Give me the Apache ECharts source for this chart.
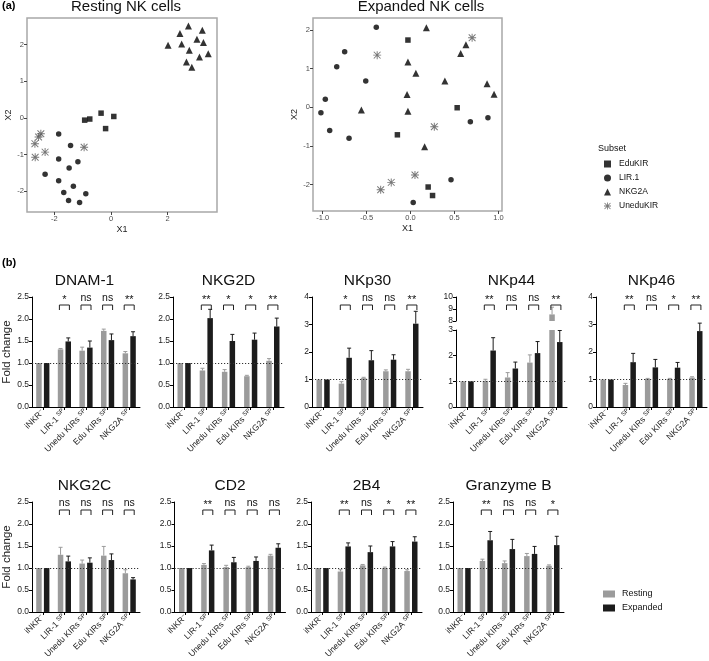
<!DOCTYPE html>
<html><head><meta charset="utf-8">
<script src="https://cdn.jsdelivr.net/npm/echarts@6/dist/echarts.min.js"></script>
<style>html,body{margin:0;padding:0;background:#fff}#c{width:709px;height:661px}</style>
</head><body><div id="c"></div>
<script>
// ---------- DATA ----------
const categories = ['iNKR', 'LIR-1', 'Unedu KIRs', 'Edu KIRs', 'NKG2A'];
const categorySuperscripts = ['−', 'SP', 'SP', 'SP', 'SP'];
const groups = ['Resting', 'Expanded'];
const subsets = ['EduKIR', 'LIR.1', 'NKG2A', 'UneduKIR'];

// (a) scatter: [X1, X2]
const restingEduKIR = [[-0.93,-0.06],[-0.75,-0.03],[-0.35,0.13],[0.10,0.04],[-0.19,-0.29]];
const restingLIR1 = [[-1.85,-0.44],[-1.43,-0.75],[-1.85,-1.12],[-1.17,-1.19],[-1.48,-1.36],[-2.33,-1.53],[-1.85,-1.71],[-1.33,-1.86],[-1.67,-2.03],[-0.89,-2.06],[-1.50,-2.25],[-1.11,-2.30]];
const restingNKG2A = [[2.02,1.98],[2.44,2.30],[2.74,2.50],[3.23,2.39],[2.50,2.01],[3.04,2.14],[3.27,2.05],[2.77,1.84],[3.13,1.66],[3.44,1.75],[2.67,1.52],[2.86,1.38]];
const restingUneduKIR = [[-2.48,-0.43],[-2.56,-0.52],[-2.69,-0.70],[-2.33,-0.93],[-2.68,-1.07],[-0.95,-0.80]];

const expandedEduKIR = [[-0.03,1.74],[0.53,-0.01],[-0.15,-0.71],[0.20,-2.06],[0.25,-2.28]];
const expandedLIR1 = [[-0.39,2.07],[-0.75,1.44],[-0.84,1.05],[-0.51,0.68],[-0.97,0.21],[-1.02,-0.14],[-0.92,-0.60],[-0.70,-0.80],[0.68,-0.37],[0.88,-0.27],[0.46,-1.87],[0.03,-2.46]];
const expandedNKG2A = [[0.18,2.06],[0.63,1.62],[0.57,1.39],[-0.03,1.17],[0.06,0.88],[0.39,0.68],[-0.04,0.33],[0.87,0.61],[0.95,0.34],[-0.56,-0.07],[-0.03,-0.10],[0.16,-1.02]];
const expandedUneduKIR = [[-0.38,1.35],[0.70,1.80],[0.27,-0.50],[0.05,-1.75],[-0.22,-1.94],[-0.34,-2.13]];

const restingTicksX = [-2, 0, 2];
const restingTicksY = [-2, -1, 0, 1, 2];
const expandedTicksX = [-1.0, -0.5, 0.0, 0.5, 1.0];
const expandedTicksY = [-2, -1, 0, 1, 2];

// (b) fold change: mean and upper error (SEM)
const dnam1Resting = [1.00, 1.31, 1.28, 1.73, 1.22];
const dnam1RestingErr = [0, 0.02, 0.08, 0.04, 0.04];
const dnam1Expanded = [1.00, 1.49, 1.35, 1.52, 1.61];
const dnam1ExpandedErr = [0, 0.08, 0.15, 0.14, 0.10];
const dnam1Sig = ['*', 'ns', 'ns', '**'];

const nkg2dResting = [1.00, 0.83, 0.80, 0.70, 1.05];
const nkg2dRestingErr = [0, 0.05, 0.05, 0.02, 0.05];
const nkg2dExpanded = [1.00, 2.02, 1.50, 1.53, 1.83];
const nkg2dExpandedErr = [0, 0.20, 0.15, 0.15, 0.19];
const nkg2dSig = ['**', '*', '*', '**'];

const nkp30Resting = [1.00, 0.85, 1.05, 1.30, 1.30];
const nkp30RestingErr = [0, 0.07, 0.03, 0.05, 0.07];
const nkp30Expanded = [1.00, 1.79, 1.70, 1.72, 3.03];
const nkp30ExpandedErr = [0, 0.35, 0.35, 0.18, 0.45];
const nkp30Sig = ['*', 'ns', 'ns', '**'];

const nkp44Resting = [1.00, 1.02, 1.15, 1.73, 8.55];
const nkp44RestingErr = [0, 0.06, 0.19, 0.30, 0.60];
const nkp44Expanded = [1.00, 2.20, 1.50, 2.10, 2.53];
const nkp44ExpandedErr = [0, 0.50, 0.25, 0.45, 0.45];
const nkp44Sig = ['**', 'ns', 'ns', '**'];

const nkp46Resting = [1.00, 0.80, 1.02, 1.02, 1.07];
const nkp46RestingErr = [0, 0.06, 0.02, 0.02, 0.03];
const nkp46Expanded = [1.00, 1.63, 1.44, 1.43, 2.76];
const nkp46ExpandedErr = [0, 0.32, 0.29, 0.19, 0.29];
const nkp46Sig = ['**', 'ns', '*', '**'];

const nkg2cResting = [1.00, 1.30, 1.10, 1.28, 0.88];
const nkg2cRestingErr = [0, 0.17, 0.08, 0.21, 0.08];
const nkg2cExpanded = [1.00, 1.15, 1.12, 1.18, 0.74];
const nkg2cExpandedErr = [0, 0.12, 0.11, 0.14, 0.04];
const nkg2cSig = ['ns', 'ns', 'ns', 'ns'];

const cd2Resting = [1.00, 1.07, 1.02, 1.02, 1.28];
const cd2RestingErr = [0, 0.03, 0.04, 0.02, 0.03];
const cd2Expanded = [1.00, 1.40, 1.13, 1.16, 1.46];
const cd2ExpandedErr = [0, 0.12, 0.11, 0.09, 0.09];
const cd2Sig = ['**', 'ns', 'ns', 'ns'];

const b2b4Resting = [1.00, 0.92, 1.06, 1.00, 0.93];
const b2b4RestingErr = [0, 0.04, 0.02, 0.02, 0.03];
const b2b4Expanded = [1.00, 1.49, 1.36, 1.49, 1.60];
const b2b4ExpandedErr = [0, 0.08, 0.14, 0.11, 0.11];
const b2b4Sig = ['**', 'ns', '*', '**'];

const gzmbResting = [1.00, 1.16, 1.11, 1.27, 1.05];
const gzmbRestingErr = [0, 0.04, 0.05, 0.06, 0.02];
const gzmbExpanded = [1.00, 1.63, 1.43, 1.32, 1.52];
const gzmbExpandedErr = [0, 0.20, 0.22, 0.17, 0.20];
const gzmbSig = ['**', 'ns', 'ns', '*'];

const ticks25 = [0, 2.5, 0.5];
const ticks4 = [0, 4, 1];
const ticksNkp44Low = [0, 3, 1];
const ticksNkp44High = [8, 10, 1];

// ---------- LAYOUT / STYLE ----------
const FONT = 'Liberation Sans, Arial, Helvetica, sans-serif';
const GRAY = '#9b9b9b', BLACK = '#1c1c1c';
const BW = 5.5, HALF = 3.85;
const asteriskPath = 'path://M0,4.4L10,4.4L10,5.6L0,5.6Z M4.4,0L5.6,0L5.6,10L4.4,10Z M1.2,0.35L9.65,8.8L8.8,9.65L0.35,1.2Z M8.8,0.35L9.65,1.2L1.2,9.65L0.35,8.8Z';
const symbolFor = {EduKIR: ['rect', 5.5, '#000'], 'LIR.1': ['circle', 5.5, '#000'], NKG2A: ['triangle', 7, '#000'], UneduKIR: [asteriskPath, 8, '#555']};

const grids = [], xAxes = [], yAxes = [], series = [], graphics = [];

function addScatter(left, top, w, h, xr, yr, xt, yt, dec, sets) {
  const gi = grids.length;
  grids.push({left, top, width: w, height: h, show: true, borderColor: '#a8a8a8', borderWidth: 1.5, backgroundColor: 'transparent'});
  const lab = {fontSize: 7.5, color: '#4d4d4d', fontFamily: FONT, margin: 3};
  xAxes.push({gridIndex: gi, type: 'value', position: 'bottom', min: xr[0], max: xr[1], name: 'X1', nameLocation: 'middle', nameGap: 13,
    nameTextStyle: {fontSize: 9, color: '#222', fontFamily: FONT},
    axisLine: {show: false, onZero: false}, splitLine: {show: false},
    axisTick: {show: true, length: 3, lineStyle: {color: '#444'}, customValues: xt},
    axisLabel: Object.assign({customValues: xt, formatter: v => dec ? v.toFixed(1) : String(v)}, lab)});
  yAxes.push({gridIndex: gi, type: 'value', position: 'left', min: yr[0], max: yr[1], name: 'X2', nameLocation: 'middle', nameGap: 14,
    nameTextStyle: {fontSize: 9, color: '#222', fontFamily: FONT},
    axisLine: {show: false, onZero: false}, splitLine: {show: false},
    axisTick: {show: true, length: 3, lineStyle: {color: '#444'}, customValues: yt},
    axisLabel: Object.assign({customValues: yt, formatter: v => String(v)}, lab)});
  subsets.forEach((s, k) => {
    const sy = symbolFor[s];
    series.push({type: 'scatter', name: s, xAxisIndex: gi, yAxisIndex: gi, data: sets[k],
      symbol: sy[0], symbolSize: sy[1], itemStyle: {color: sy[2]}, silent: true});
  });
}

function errRender(offset, color) {
  return function (params, api) {
    const e = api.value(2);
    if (!(e > 0)) return;
    const c = api.value(0), v = api.value(1);
    const p0 = api.coord([c, v]), p1 = api.coord([c, v + e]);
    const x = p0[0] + offset;
    return {type: 'group', children: [
      {type: 'line', shape: {x1: x, y1: p0[1], x2: x, y2: p1[1]}, style: {stroke: color, lineWidth: 1}},
      {type: 'line', shape: {x1: x - 2, y1: p1[1], x2: x + 2, y2: p1[1]}, style: {stroke: color, lineWidth: 1}}
    ]};
  };
}

function sigRender(sig) {
  return function (params, api) {
    const p = api.coord([api.value(0), 0]);
    const x = p[0], top = params.coordSys.y;
    const txt = sig[params.dataIndex];
    const star = txt.indexOf('*') >= 0;
    return {type: 'group', children: [
      {type: 'polyline', shape: {points: [[x - 5, top + 13], [x - 5, top + 8], [x + 5, top + 8], [x + 5, top + 13]]},
        style: {stroke: '#222', lineWidth: 1, fill: null}},
      {type: 'text', x: x, y: star ? top + 3 : top + 1, style: {text: txt, fill: '#111', fontSize: star ? 11 : 10.5,
        fontFamily: FONT, align: 'center', verticalAlign: 'middle'}}
    ]};
  };
}

function makeX(gi, show) {
  return {gridIndex: gi, type: 'category', data: categories, show: show,
    axisLine: {show: show, lineStyle: {color: '#000', width: 1}},
    axisTick: {show: show, length: 3, alignWithLabel: true, lineStyle: {color: '#000'}},
    axisLabel: {show: show, interval: 0, rotate: 45, margin: 4, fontFamily: FONT, color: '#222',
      formatter: (v, i) => '{a|' + v + (i === 0 ? '' : ' ') + '}{s|' + categorySuperscripts[i] + '}',
      rich: {a: {fontSize: 8.5, lineHeight: 10, fontFamily: FONT, color: '#222'},
             s: {fontSize: 6, lineHeight: 6, verticalAlign: 'top', fontFamily: FONT, color: '#222'}}}};
}
function makeY(gi, t, yname) {
  const dec = t[2] < 1;
  return {gridIndex: gi, type: 'value', min: t[0], max: t[1], interval: t[2],
    name: yname ? 'Fold change' : '', nameLocation: 'middle', nameGap: 19,
    nameTextStyle: {fontSize: 11.5, color: '#222', fontFamily: FONT},
    axisLine: {show: true, lineStyle: {color: '#000', width: 1}},
    axisTick: {show: true, length: 3, lineStyle: {color: '#000'}},
    splitLine: {show: false},
    axisLabel: {fontSize: 8.5, color: '#222', margin: 3, fontFamily: FONT, formatter: v => dec ? v.toFixed(1) : String(v)}};
}
function barSeries(gi, name, data, color, withRef) {
  const s = {type: 'bar', name, xAxisIndex: gi, yAxisIndex: gi, data, barWidth: BW, barGap: '40%',
    itemStyle: {color}, silent: true, clip: true};
  if (withRef) s.markLine = {silent: true, symbol: 'none', animation: false, label: {show: false},
    lineStyle: {type: [1.2, 1.8], color: '#333', width: 1}, data: [{yAxis: 1}]};
  return s;
}
function errSeries(gi, vals, errs, offset, color, keep) {
  return {type: 'custom', xAxisIndex: gi, yAxisIndex: gi, silent: true, clip: false,
    data: vals.map((v, i) => keep(v, errs[i]) ? [i, v, errs[i]] : [i, v, 0]),
    renderItem: errRender(offset, color)};
}

function addBarPanel(p) {
  const gi = grids.length;
  grids.push({left: p.left, top: p.top, width: 111, height: p.h});
  xAxes.push(makeX(gi, true));
  yAxes.push(makeY(gi, p.ticks, p.yname));
  series.push(barSeries(gi, 'Resting', p.r, GRAY, true));
  series.push(barSeries(gi, 'Expanded', p.e, BLACK, false));
  const all = () => true;
  series.push(errSeries(gi, p.r, p.re, -HALF, GRAY, p.keepR || all));
  series.push(errSeries(gi, p.e, p.ee, HALF, BLACK, all));
  let sg = gi;
  if (p.upper) {
    sg = grids.length;
    grids.push({left: p.left, top: p.upper.top, width: 111, height: p.upper.h});
    xAxes.push(makeX(sg, false));
    yAxes.push(makeY(sg, p.upper.ticks, false));
    const lo = p.upper.ticks[0];
    series.push(barSeries(sg, 'Resting', p.r.map(v => v >= lo ? v : '-'), GRAY, false));
    series.push(barSeries(sg, 'Expanded', p.e.map(v => v >= lo ? v : '-'), BLACK, false));
    series.push(errSeries(sg, p.r, p.re, -HALF, GRAY, v => v >= lo));
  }
  series.push({type: 'custom', xAxisIndex: sg, yAxisIndex: sg, silent: true, clip: false,
    data: p.sig.map((s, k) => [k + 1]), renderItem: sigRender(p.sig)});
  graphics.push({type: 'text', x: p.left + 55.5, y: p.titleY,
    style: {text: p.name, fontSize: 15.5, fontFamily: FONT, fill: '#111', align: 'center', verticalAlign: 'middle'}});
}

// ---------- BUILD ----------
addScatter(27, 18, 190, 194, [-2.97, 3.75], [-2.56, 2.72], restingTicksX, restingTicksY, false,
  [restingEduKIR, restingLIR1, restingNKG2A, restingUneduKIR]);
addScatter(313, 18, 189, 193, [-1.11, 1.04], [-2.68, 2.31], expandedTicksX, expandedTicksY, true,
  [expandedEduKIR, expandedLIR1, expandedNKG2A, expandedUneduKIR]);

const R1 = 297, H1 = 110, R2 = 502, H2 = 111;
addBarPanel({name: 'DNAM-1', left: 29, top: R1, h: H1, titleY: 281, ticks: ticks25, yname: true,
  r: dnam1Resting, re: dnam1RestingErr, e: dnam1Expanded, ee: dnam1ExpandedErr, sig: dnam1Sig});
addBarPanel({name: 'NKG2D', left: 173, top: R1, h: H1, titleY: 281, ticks: ticks25,
  r: nkg2dResting, re: nkg2dRestingErr, e: nkg2dExpanded, ee: nkg2dExpandedErr, sig: nkg2dSig});
addBarPanel({name: 'NKp30', left: 312, top: R1, h: H1, titleY: 281, ticks: ticks4,
  r: nkp30Resting, re: nkp30RestingErr, e: nkp30Expanded, ee: nkp30ExpandedErr, sig: nkp30Sig});
addBarPanel({name: 'NKp44', left: 456, top: 330, h: 77, titleY: 281, ticks: ticksNkp44Low,
  upper: {top: R1, h: 24, ticks: ticksNkp44High},
  keepR: (v, e) => v + e <= ticksNkp44Low[1],
  r: nkp44Resting, re: nkp44RestingErr, e: nkp44Expanded, ee: nkp44ExpandedErr, sig: nkp44Sig});
addBarPanel({name: 'NKp46', left: 596, top: R1, h: H1, titleY: 281, ticks: ticks4,
  r: nkp46Resting, re: nkp46RestingErr, e: nkp46Expanded, ee: nkp46ExpandedErr, sig: nkp46Sig});

addBarPanel({name: 'NKG2C', left: 29, top: R2, h: H2, titleY: 486, ticks: ticks25, yname: true,
  r: nkg2cResting, re: nkg2cRestingErr, e: nkg2cExpanded, ee: nkg2cExpandedErr, sig: nkg2cSig});
addBarPanel({name: 'CD2', left: 174.5, top: R2, h: H2, titleY: 486, ticks: ticks25,
  r: cd2Resting, re: cd2RestingErr, e: cd2Expanded, ee: cd2ExpandedErr, sig: cd2Sig});
addBarPanel({name: '2B4', left: 311, top: R2, h: H2, titleY: 486, ticks: ticks25,
  r: b2b4Resting, re: b2b4RestingErr, e: b2b4Expanded, ee: b2b4ExpandedErr, sig: b2b4Sig});
addBarPanel({name: 'Granzyme B', left: 453, top: R2, h: H2, titleY: 486, ticks: ticks25,
  r: gzmbResting, re: gzmbRestingErr, e: gzmbExpanded, ee: gzmbExpandedErr, sig: gzmbSig});

graphics.push(
  {type: 'text', x: 2, y: 6, style: {text: '(a)', fontSize: 11, fontWeight: 'bold', fontFamily: FONT, fill: '#000', verticalAlign: 'middle'}},
  {type: 'text', x: 2, y: 263, style: {text: '(b)', fontSize: 11, fontWeight: 'bold', fontFamily: FONT, fill: '#000', verticalAlign: 'middle'}},
  {type: 'text', x: 126, y: 7, style: {text: 'Resting NK cells', fontSize: 15, fontFamily: FONT, fill: '#111', align: 'center', verticalAlign: 'middle'}},
  {type: 'text', x: 421, y: 7, style: {text: 'Expanded NK cells', fontSize: 15, fontFamily: FONT, fill: '#111', align: 'center', verticalAlign: 'middle'}},
  {type: 'text', x: 598, y: 149, style: {text: 'Subset', fontSize: 9, fontFamily: FONT, fill: '#111', verticalAlign: 'middle'}}
);

const option = {
  animation: false,
  backgroundColor: '#fff',
  grid: grids, xAxis: xAxes, yAxis: yAxes, series,
  legend: [
    {data: subsets, orient: 'vertical', left: 599, top: 154, itemWidth: 7, itemHeight: 7, itemGap: 4,
      textStyle: {fontSize: 8.5, fontFamily: FONT, color: '#111', padding: [0, 0, 0, 3], lineHeight: 10}, selectedMode: false},
    {data: groups, orient: 'vertical', left: 598, top: 584, itemWidth: 12, itemHeight: 7, itemGap: 4, icon: 'rect',
      textStyle: {fontSize: 9, fontFamily: FONT, color: '#111', padding: [0, 0, 0, 2], lineHeight: 10}, selectedMode: false}
  ],
  graphic: graphics
};
const chart = echarts.init(document.getElementById('c'), null, {renderer: 'canvas'});
chart.setOption(option);
</script></body></html>
